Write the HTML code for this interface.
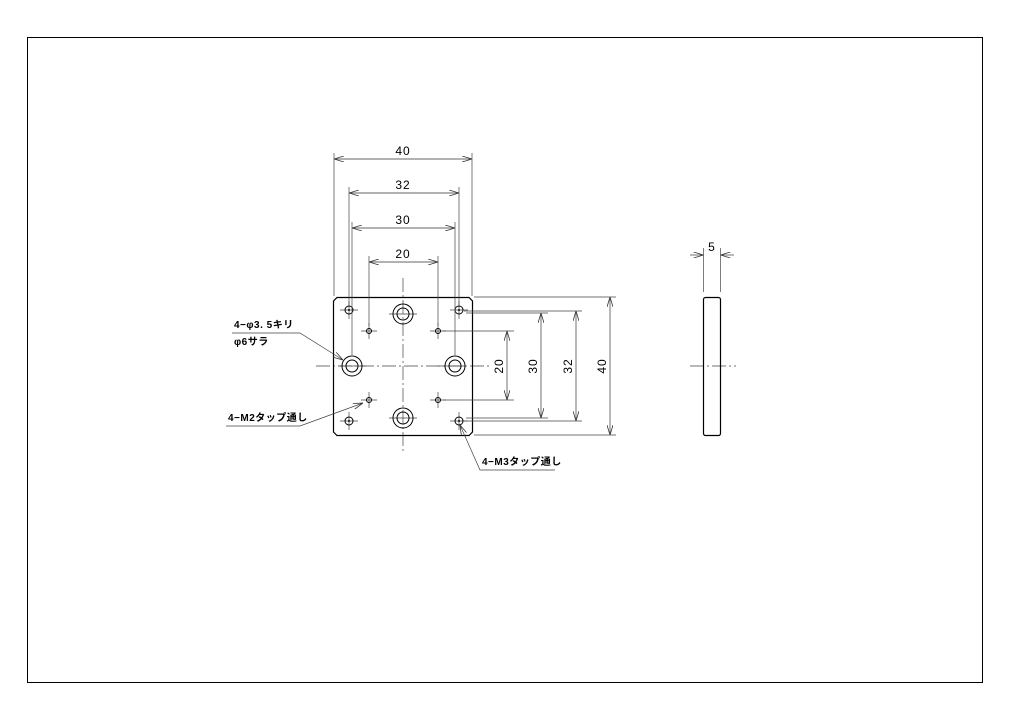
<!DOCTYPE html>
<html><head><meta charset="utf-8"><style>
html,body{margin:0;padding:0;background:#fff;}
svg{display:block;}
text{font-family:"Liberation Sans","Noto Sans CJK JP",sans-serif;fill:#000;}
</style></head><body>
<svg width="1024" height="724" viewBox="0 0 1024 724" xmlns="http://www.w3.org/2000/svg">
<defs>
<marker id="a" viewBox="0 0 10 6" refX="10" refY="3" markerWidth="10" markerHeight="6" orient="auto-start-reverse" markerUnits="userSpaceOnUse">
<path d="M0,0 L10,3 L0,6" fill="none" stroke="#333" stroke-width="0.8"/>
</marker>
</defs>
<rect x="27.5" y="37.5" width="955" height="645" fill="none" stroke="#000" stroke-width="1"/>

<!-- center lines -->
<g stroke="#444" stroke-width="0.7" stroke-dasharray="14,3,2,3" fill="none">
<line x1="316" y1="366" x2="490" y2="366"/>
<line x1="403" y1="278" x2="403" y2="452"/>
<line x1="690" y1="366" x2="736" y2="366"/>
</g>
<g stroke="#444" stroke-width="0.7" fill="none">
<!-- hole crosshairs -->
<path d="M340,310h18M349,301v18 M450,310h18M459,301v18 M340,421h18M349,412v18 M450,421h18M459,412v18"/>
<path d="M361,331h16M369,323v16 M430,331h16M438,323v16 M361,400h16M369,392v16 M430,400h16M438,400v0M438,392v16"/>
<path d="M389,314h28M437,366h28M389,418h28M338,366h28"/>
</g>

<!-- plate -->
<path d="M337,297.5H469L472.5,301V432L469,435.5H337L333.5,432V301Z" fill="none" stroke="#000" stroke-width="1.2"/>
<g fill="none" stroke="#000" stroke-width="1">
<circle cx="349" cy="310" r="4"/><circle cx="459" cy="310" r="4"/>
<circle cx="349" cy="421" r="4"/><circle cx="459" cy="421" r="4"/>
<circle cx="369" cy="331" r="2.5"/><circle cx="438" cy="331" r="2.5"/>
<circle cx="369" cy="400" r="2.5"/><circle cx="438" cy="400" r="2.5"/>
<circle cx="403" cy="314" r="10"/><circle cx="403" cy="314" r="6"/>
<circle cx="403" cy="418" r="10"/><circle cx="403" cy="418" r="6"/>
<circle cx="352" cy="366" r="10"/><circle cx="352" cy="366" r="6"/>
<circle cx="455" cy="366" r="10"/><circle cx="455" cy="366" r="6"/>
</g>
<g fill="#000"><circle cx="349" cy="310" r="1"/><circle cx="459" cy="310" r="1"/><circle cx="349" cy="421" r="1"/><circle cx="459" cy="421" r="1"/></g>

<!-- top extension lines -->
<g stroke="#444" stroke-width="0.7">
<line x1="334" y1="153" x2="334" y2="296"/><line x1="472" y1="153" x2="472" y2="296"/>
<line x1="349" y1="187" x2="349" y2="305"/><line x1="459" y1="187" x2="459" y2="305"/>
<line x1="352" y1="222" x2="352" y2="355"/><line x1="455" y1="222" x2="455" y2="355"/>
<line x1="369" y1="256" x2="369" y2="326"/><line x1="438" y1="256" x2="438" y2="326"/>
<!-- right extension -->
<line x1="474" y1="297" x2="616" y2="297"/><line x1="474" y1="435" x2="616" y2="435"/>
<line x1="464" y1="311" x2="582" y2="311"/><line x1="464" y1="421" x2="582" y2="421"/>
<line x1="466" y1="313" x2="548" y2="313"/><line x1="466" y1="418" x2="548" y2="418"/>
<line x1="443" y1="331" x2="514" y2="331"/><line x1="443" y1="400" x2="514" y2="400"/>
</g>
<g stroke="#333" stroke-width="0.7" marker-start="url(#a)" marker-end="url(#a)">
<line x1="334" y1="159" x2="472" y2="159"/>
<line x1="349" y1="193" x2="459" y2="193"/>
<line x1="352" y1="228" x2="455" y2="228"/>
<line x1="369" y1="262" x2="438" y2="262"/>
<line x1="507" y1="331" x2="507" y2="400"/>
<line x1="541" y1="313" x2="541" y2="418"/>
<line x1="576" y1="311" x2="576" y2="421"/>
<line x1="610" y1="297" x2="610" y2="435"/>
</g>
<g font-size="12" text-anchor="middle" letter-spacing="1">
<text x="403" y="155">40</text>
<text x="403" y="189">32</text>
<text x="403" y="224">30</text>
<text x="403" y="258">20</text>
<text transform="translate(503,366) rotate(-90)">20</text>
<text transform="translate(537,366) rotate(-90)">30</text>
<text transform="translate(572,366) rotate(-90)">32</text>
<text transform="translate(606,366) rotate(-90)">40</text>
<text x="712" y="251">5</text>
</g>

<!-- side view -->
<rect x="703.5" y="297.5" width="17" height="138" rx="2" fill="none" stroke="#000" stroke-width="1.2"/>
<g stroke="#444" stroke-width="0.7">
<line x1="703.5" y1="248" x2="703.5" y2="292"/><line x1="720.5" y1="248" x2="720.5" y2="292"/>
</g>
<g stroke="#333" stroke-width="0.7">
<line x1="690" y1="255" x2="703.5" y2="255" marker-end="url(#a)"/>
<line x1="734" y1="255" x2="720.5" y2="255" marker-end="url(#a)"/>
</g>

<!-- leaders -->
<g stroke="#444" stroke-width="0.7" fill="none">
<path d="M232,333H300L343,360" marker-end="url(#a)"/>
<path d="M226,426H300L363,403" marker-end="url(#a)"/>
<path d="M555,470H480L460,425" marker-end="url(#a)"/>
</g>
<g font-size="10" font-weight="bold" letter-spacing="0.5">
<text x="234" y="328">4−φ3. 5キリ</text>
<text x="234" y="345">φ6サラ</text>
<text x="228" y="421">4−M2タップ通し</text>
<text x="482" y="465">4−M3タップ通し</text>
</g>
</svg>
</body></html>
